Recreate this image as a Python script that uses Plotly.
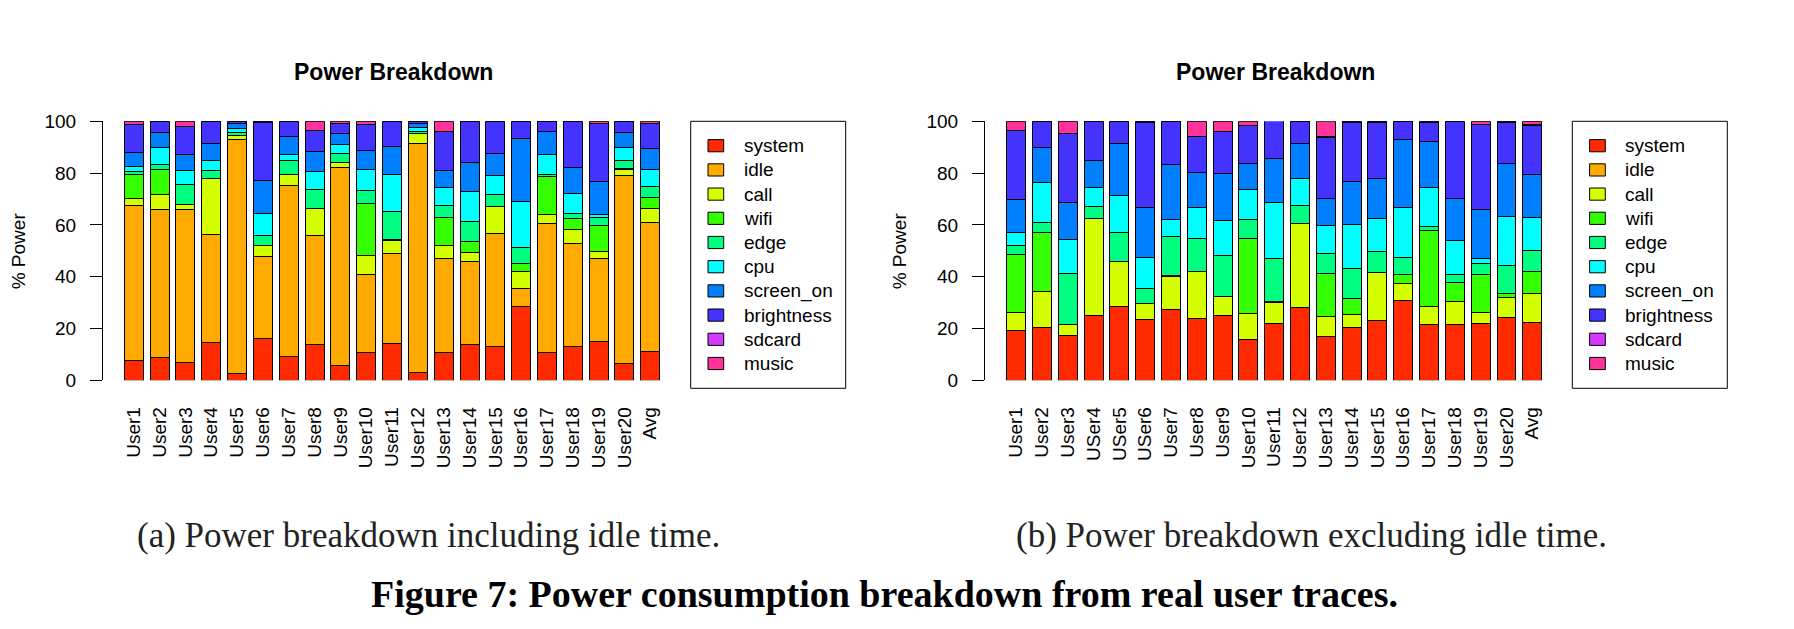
import plotly.graph_objects as go

W, H = 1794, 629
OFF = 8  # page body margin of the html page, compensated in placements

series = ["system", "idle", "call", "wifi", "edge", "cpu", "screen_on", "brightness", "sdcard", "music"]
colors = ["#FF2A00", "#FFAA00", "#D4FF00", "#33FF00", "#00FF80", "#00FFFF", "#0080FF", "#4433FF", "#D63AFF", "#FF3399"]

users_a = ["User1", "User2", "User3", "User4", "User5", "User6", "User7", "User8", "User9", "User10",
           "User11", "User12", "User13", "User14", "User15", "User16", "User17", "User18", "User19", "User20", "Avg"]
users_b = ["User1", "User2", "User3", "USer4", "USer5", "USer6", "User7", "User8", "User9", "User10",
           "User11", "User12", "User13", "User14", "User15", "User16", "User17", "User18", "User19", "User20", "Avg"]

# (a) including idle time, % power
a_system = [7.6, 8.8, 6.8, 14.6, 2.6, 16.1, 9.1, 13.8, 5.7, 10.7, 14.2, 3.0, 10.7, 13.8, 13.0, 28.5, 10.7, 13.0, 14.9, 6.4, 11.1]
a_idle = [59.9, 57.2, 59.2, 41.7, 90.4, 31.7, 66.2, 42.1, 76.5, 30.2, 34.8, 88.5, 36.3, 32.1, 43.7, 6.9, 49.9, 39.8, 32.1, 72.7, 49.9]
a_call = [2.7, 5.8, 1.9, 21.7, 1.6, 4.3, 4.2, 10.5, 1.9, 7.3, 5.0, 3.9, 5.1, 3.5, 10.4, 6.6, 3.4, 5.4, 2.7, 2.3, 5.4]
a_wifi = [9.3, 9.6, 0, 0, 0, 0, 0, 0, 0, 20.1, 0.3, 0, 10.8, 4.2, 0, 3.1, 14.7, 4.3, 10.1, 0.4, 4.2]
a_edge = [1.3, 2.0, 7.7, 3.1, 1.1, 3.8, 5.4, 7.3, 3.5, 5.0, 10.9, 0.7, 4.6, 7.7, 4.7, 6.2, 0.8, 1.9, 3.1, 3.1, 4.3]
a_cpu = [1.8, 6.5, 5.5, 3.8, 1.6, 8.5, 2.3, 7.0, 3.5, 8.1, 14.3, 1.6, 7.0, 11.6, 7.3, 17.8, 7.7, 7.8, 1.1, 5.0, 6.5]
a_screen_on = [5.4, 5.8, 6.1, 6.6, 1.9, 12.8, 7.0, 7.7, 4.3, 7.4, 10.8, 1.5, 6.6, 11.2, 8.5, 24.3, 8.9, 10.0, 12.8, 5.8, 8.2]
a_brightness = [10.8, 4.3, 10.9, 8.5, 0.8, 22.4, 5.8, 8.1, 3.8, 10.0, 9.7, 0.8, 15.0, 15.9, 12.4, 6.6, 3.9, 17.8, 22.4, 4.3, 9.6]
a_sdcard = [0, 0, 0, 0, 0, 0.4, 0, 0, 0, 0, 0, 0, 0, 0, 0, 0, 0, 0, 0, 0, 0]
a_music = [1.2, 0, 1.9, 0, 0, 0, 0, 3.5, 0.8, 1.2, 0, 0, 3.9, 0, 0, 0, 0, 0, 0.8, 0, 0.8]

# (b) excluding idle time, % power
b_system = [19.2, 20.4, 17.3, 25.0, 28.5, 23.5, 27.3, 23.8, 25.0, 15.7, 21.9, 28.1, 16.9, 20.4, 23.1, 30.8, 21.5, 21.5, 21.9, 24.2, 22.3]
b_idle = [0] * 21
b_call = [7.0, 13.9, 4.2, 37.5, 17.4, 6.1, 12.8, 18.2, 7.3, 10.1, 8.1, 32.5, 7.7, 5.0, 18.5, 6.6, 7.0, 8.9, 4.3, 7.8, 11.2]
b_wifi = [22.4, 22.8, 0, 0, 0, 0, 0.4, 0, 0, 29.0, 0.4, 0, 16.6, 6.2, 0, 3.5, 29.4, 7.4, 14.7, 1.5, 8.5]
b_edge = [3.5, 3.9, 19.7, 4.6, 11.2, 5.8, 15.0, 12.8, 15.9, 7.3, 16.6, 6.9, 7.7, 11.6, 8.1, 6.5, 1.5, 3.1, 4.2, 10.8, 8.1]
b_cpu = [5.0, 15.4, 13.2, 7.4, 14.3, 12.0, 6.6, 12.0, 13.5, 11.6, 21.6, 10.4, 10.8, 17.0, 12.8, 19.4, 15.1, 13.1, 1.9, 19.0, 12.8]
b_screen_on = [12.7, 13.5, 14.3, 10.4, 20.1, 19.4, 21.3, 13.5, 18.2, 10.1, 17.0, 13.5, 10.4, 16.6, 15.5, 26.2, 17.8, 16.2, 19.0, 20.5, 16.6]
b_brightness = [26.7, 10.1, 26.7, 15.1, 8.5, 32.8, 16.6, 13.9, 16.2, 14.7, 14.7, 8.5, 23.6, 22.8, 21.6, 7.0, 7.3, 29.8, 32.8, 15.8, 19.0]
b_sdcard = [0, 0, 0, 0, 0, 0.4, 0, 0, 0, 0, 0, 0, 0.4, 0.4, 0.4, 0, 0.4, 0, 0, 0.4, 0.4]
b_music = [3.5, 0, 4.6, 0, 0, 0, 0, 5.8, 3.9, 1.5, 0, 0, 5.8, 0, 0, 0, 0, 0, 1.2, 0, 1.1]

y_ticks = [0, 20, 40, 60, 80, 100]

panel_a = [a_system, a_idle, a_call, a_wifi, a_edge, a_cpu, a_screen_on, a_brightness, a_sdcard, a_music]
panel_b = [b_system, b_idle, b_call, b_wifi, b_edge, b_cpu, b_screen_on, b_brightness, b_sdcard, b_music]

SANS = "Liberation Sans, Arial, Helvetica, sans-serif"
SERIF = "Liberation Serif, Times New Roman, serif"

fig = go.Figure()
for name, col, vals in zip(series, colors, panel_a):
    fig.add_trace(go.Bar(x=users_a, y=vals, name=name, marker=dict(color=col, line=dict(color="black", width=1)),
                         xaxis="x", yaxis="y", showlegend=False))
for name, col, vals in zip(series, colors, panel_b):
    fig.add_trace(go.Bar(x=users_b, y=vals, name=name, marker=dict(color=col, line=dict(color="black", width=1)),
                         xaxis="x2", yaxis="y2", showlegend=False))


def fx(p):
    return (p - OFF) / W


def fy(p):
    return 1 - (p - OFF) / H


y_dom = [fy(380.3), fy(121.3)]
xcommon = dict(type="category", showline=False, showgrid=False, zeroline=False, ticks="", automargin=False,
               tickangle=-90, tickfont=dict(family=SANS, size=19, color="black"), ticklabelstandoff=22)
ycommon = dict(range=[0, 100], domain=y_dom, showline=True, linecolor="black", linewidth=1, automargin=False,
               ticks="outside", ticklen=12, tickwidth=1, tickcolor="black", tickvals=y_ticks,
               showgrid=False, zeroline=False, tickfont=dict(family=SANS, size=19, color="black"),
               ticklabelstandoff=10)

fig.update_layout(
    width=W, height=H, margin=dict(l=0, r=0, t=0, b=0, pad=0, autoexpand=False),
    paper_bgcolor="white", plot_bgcolor="white",
    barmode="stack", bargap=0.264,
    xaxis=dict(domain=[fx(103), fx(663.2)], range=[-1.193, 20.5], anchor="y",
               tickmode="array", tickvals=users_a, ticktext=users_a, **xcommon),
    yaxis=dict(anchor="x", **ycommon),
    xaxis2=dict(domain=[fx(985), fx(1545.2)], range=[-1.209, 20.5], anchor="y2",
                tickmode="array", tickvals=users_b, ticktext=users_b, **xcommon),
    yaxis2=dict(anchor="x2", **ycommon),
    showlegend=False,
)

annotations = []
shapes = []
# titles and y-axis labels
for cx, ax_x in [(393.3, 18.3), (1275.3, 899.3)]:
    annotations.append(dict(text="<b>Power Breakdown</b>", x=fx(cx), y=fy(72), xref="paper", yref="paper",
                            showarrow=False, xanchor="center", yanchor="middle",
                            font=dict(family=SANS, size=23, color="black")))
    annotations.append(dict(text="% Power", x=fx(ax_x), y=fy(251), xref="paper", yref="paper",
                            showarrow=False, xanchor="center", yanchor="middle", textangle=-90,
                            font=dict(family=SANS, size=19, color="black")))

# legends
for box_left in [690.7, 1572.3]:
    shapes.append(dict(type="rect", xref="paper", yref="paper", x0=fx(box_left), x1=fx(box_left + 155),
                       y0=fy(388.3), y1=fy(121.3), line=dict(color="black", width=1), fillcolor="white"))
    for k, (name, col) in enumerate(zip(series, colors)):
        cy = 145.7 + 24.2 * k
        shapes.append(dict(type="rect", xref="paper", yref="paper", x0=fx(box_left + 17.3), x1=fx(box_left + 33),
                           y0=fy(cy + 6.1), y1=fy(cy - 6.1), line=dict(color="black", width=1), fillcolor=col))
        annotations.append(dict(text=name, x=fx(box_left + 51), y=fy(cy), xref="paper", yref="paper",
                                showarrow=False, xanchor="left", yanchor="middle",
                                font=dict(family=SANS, size=19, color="black")))

# captions
annotations.append(dict(text="(a) Power breakdown including idle time.", x=fx(428.5), y=fy(535), xref="paper",
                        yref="paper", showarrow=False, xanchor="center", yanchor="middle",
                        font=dict(family=SERIF, size=35, color="#222222")))
annotations.append(dict(text="(b) Power breakdown excluding idle time.", x=fx(1311.5), y=fy(535), xref="paper",
                        yref="paper", showarrow=False, xanchor="center", yanchor="middle",
                        font=dict(family=SERIF, size=35, color="#222222")))
annotations.append(dict(text="<b>Figure 7: Power consumption breakdown from real user traces.</b>", x=fx(884),
                        y=fy(594), xref="paper", yref="paper", showarrow=False, xanchor="center", yanchor="middle",
                        font=dict(family=SERIF, size=38, color="black")))

fig.update_layout(annotations=annotations, shapes=shapes)
fig.write_html("out.html")
